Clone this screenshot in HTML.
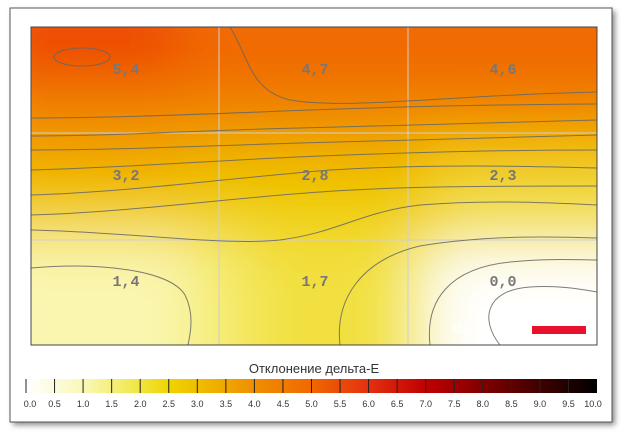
<!DOCTYPE html><html><head><style>
body{margin:0;background:#fff;width:628px;height:436px;overflow:hidden;font-family:"Liberation Sans",sans-serif}
</style></head><body>
<svg width="628" height="436" xmlns="http://www.w3.org/2000/svg">
<defs>
<filter id="sh" x="-5%" y="-5%" width="110%" height="110%"><feGaussianBlur stdDeviation="3"/></filter>
<filter id="bl" x="-20%" y="-20%" width="140%" height="140%"><feGaussianBlur stdDeviation="28"/></filter>
<clipPath id="cp"><rect x="31" y="27" width="566" height="318"/></clipPath>
<linearGradient id="cb" x1="0" x2="1">
<stop offset="0" stop-color="#ffffff"/><stop offset="0.1" stop-color="#f9f8b8"/><stop offset="0.2" stop-color="#f0e640"/><stop offset="0.25" stop-color="#f0d400"/><stop offset="0.3" stop-color="#efbe00"/><stop offset="0.4" stop-color="#f08e00"/><stop offset="0.5" stop-color="#f06800"/><stop offset="0.6" stop-color="#e43010"/><stop offset="0.7" stop-color="#c00000"/><stop offset="0.8" stop-color="#800000"/><stop offset="0.9" stop-color="#400000"/><stop offset="1" stop-color="#000000"/>
</linearGradient>
</defs>
<rect x="13" y="11" width="602" height="414" fill="#888" filter="url(#sh)"/>
<rect x="10" y="8" width="602" height="414" fill="#fff" stroke="#555" stroke-width="1"/>
<g clip-path="url(#cp)">
<g filter="url(#bl)">
<rect x="-20" y="-20" width="700" height="100" fill="#f06800"/>
<rect x="-20" y="-20" width="200" height="100" fill="#ee4a00"/>
<rect x="-20" y="80" width="700" height="53" fill="#f08000"/>
<rect x="-20" y="133" width="700" height="53" fill="#efb400"/>
<rect x="-20" y="133" width="200" height="53" fill="#f0a800"/>
<rect x="420" y="133" width="260" height="53" fill="#f0c800"/>
<rect x="-20" y="186" width="700" height="53" fill="#f0d000"/>
<rect x="440" y="186" width="240" height="53" fill="#f2e050"/>
<rect x="-20" y="239" width="700" height="200" fill="#f5ec70"/>
<rect x="-20" y="239" width="210" height="200" fill="#faf6b0"/>
<rect x="250" y="239" width="150" height="200" fill="#f2e040"/>
<rect x="430" y="250" width="250" height="200" fill="#ffffff"/>
<rect x="470" y="290" width="200" height="100" fill="#ffffff"/>
</g>
<g stroke="#cfcfcf" stroke-width="1">
<line x1="219" y1="27" x2="219" y2="345"/><line x1="408" y1="27" x2="408" y2="345"/>
<line x1="31" y1="133" x2="597" y2="133"/><line x1="31" y1="240" x2="597" y2="240"/>
</g>
<g fill="none" stroke="#666" stroke-width="1" opacity="0.85">
<ellipse cx="82" cy="57" rx="28" ry="9"/>
<path d="M230 27 C250 60 250 90 290 100 C350 110 450 95 597 92"/>
<path d="M31 118 C100 118 180 115 260 112 C350 108 450 105 597 104"/>
<path d="M31 136 C120 136 200 130 300 128 C400 126 500 122 597 120"/>
<path d="M31 150 C120 150 200 146 300 143 C400 140 500 137 597 135"/>
<path d="M31 170 C120 168 220 160 320 156 C420 152 500 150 597 150"/>
<path d="M31 195 C130 192 230 178 330 170 C430 164 520 166 597 168"/>
<path d="M31 215 C130 212 230 198 320 192 C400 186 500 186 597 186"/>
<path d="M31 230 C130 232 220 246 280 240 C340 232 360 212 420 205 C480 200 540 202 597 205"/>
<path d="M31 268 C100 262 170 270 185 295 C195 315 190 335 188 345"/>
<path d="M340 345 C335 300 360 260 420 246 C480 236 540 236 597 238"/>
<path d="M430 345 C425 300 450 268 510 262 C550 258 580 260 597 260"/>
<path d="M500 345 C480 320 485 290 530 287 C560 285 585 290 597 292"/>
</g>
<rect x="532" y="326" width="54" height="8" fill="#e8102a"/>
<text x="452" y="333" font-size="16" font-weight="bold" fill="#fff" opacity="0.8">dat</text>
</g>
<rect x="31" y="27" width="566" height="318" fill="none" stroke="#444"/>
<g font-family="Liberation Mono,monospace" font-weight="bold" font-size="15" fill="#777" text-anchor="middle">
<text x="126" y="74">5,4</text><text x="315" y="74">4,7</text><text x="503" y="74">4,6</text>
<text x="126" y="180">3,2</text><text x="315" y="180">2,8</text><text x="503" y="180">2,3</text>
<text x="126" y="286">1,4</text><text x="315" y="286">1,7</text><text x="503" y="286">0,0</text>
</g>
<text x="314" y="373" font-size="13" fill="#333" text-anchor="middle">Отклонение дельта-E</text>
<rect x="26" y="379" width="571" height="14" fill="url(#cb)"/>
<g stroke="#222" stroke-width="1" id="tk"></g>
<g font-size="9" fill="#333" text-anchor="middle" id="tl"></g>
<script>
var tk=document.getElementById('tk'),tl=document.getElementById('tl'),ns='http://www.w3.org/2000/svg';
for(var i=0;i<=20;i++){var x=26+i*571/20;
if(i<20){var l=document.createElementNS(ns,'line');l.setAttribute('x1',x);l.setAttribute('x2',x);l.setAttribute('y1',379);l.setAttribute('y2',393);tk.appendChild(l);}
var t=document.createElementNS(ns,'text');t.setAttribute('x',x+(i==0?4:0)-(i==20?4:0));t.setAttribute('y',407);t.textContent=(i/2).toFixed(1);tl.appendChild(t);}
</script>
</svg>
</body></html>
